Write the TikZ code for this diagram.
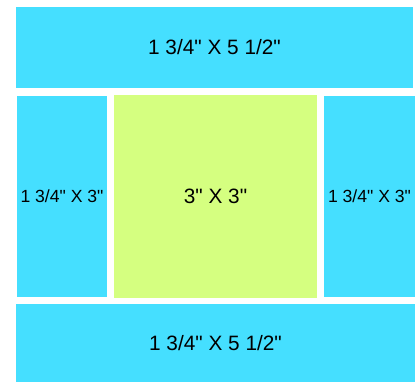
\documentclass[tikz,border=0pt]{standalone}
\usepackage{fontspec}
\newfontfamily\labelfont{Liberation Sans}
\usepackage{tikz}
\usetikzlibrary{positioning}
\definecolor{trimblue}{RGB}{69, 223, 255}
\definecolor{centregreen}{RGB}{213, 255, 128}

\begin{document}
\begin{tikzpicture}[
  x=1pt, y=-1pt,
  every node/.style={font=\labelfont\fontsize{20.8}{24}\selectfont},
  strip/.style={
    fill=trimblue, draw=none, inner sep=0pt,
    minimum width=397pt, minimum height=81pt
  },
  side/.style={
    fill=trimblue, draw=none, inner sep=0pt,
    minimum width=90pt, minimum height=201pt,
    font=\labelfont\fontsize{17.6}{20}\selectfont
  },
  square/.style={
    fill=centregreen, draw=none, inner sep=0pt,
    minimum width=203pt, minimum height=203pt
  }
]
  \useasboundingbox (0,0) rectangle (420,381);

  % Bandes haut et bas
  \node[strip] (top) at (214.5,47.5) {1 3/4" X 5 1/2"};
  \node[strip, minimum width=399pt, minimum height=78pt] (bottom) at (215.5,343) {1 3/4" X 5 1/2"};

  % Colonne centrale et cotes
  \node[square] (centre) at (215.5,196.5) {3" X 3"};
  \node[side] (left) at (62,196.5) {1 3/4" X 3"};
  \node[side, minimum width=91pt] (right) at (369.5,196.5) {1 3/4" X 3"};

\end{tikzpicture}
\end{document}
